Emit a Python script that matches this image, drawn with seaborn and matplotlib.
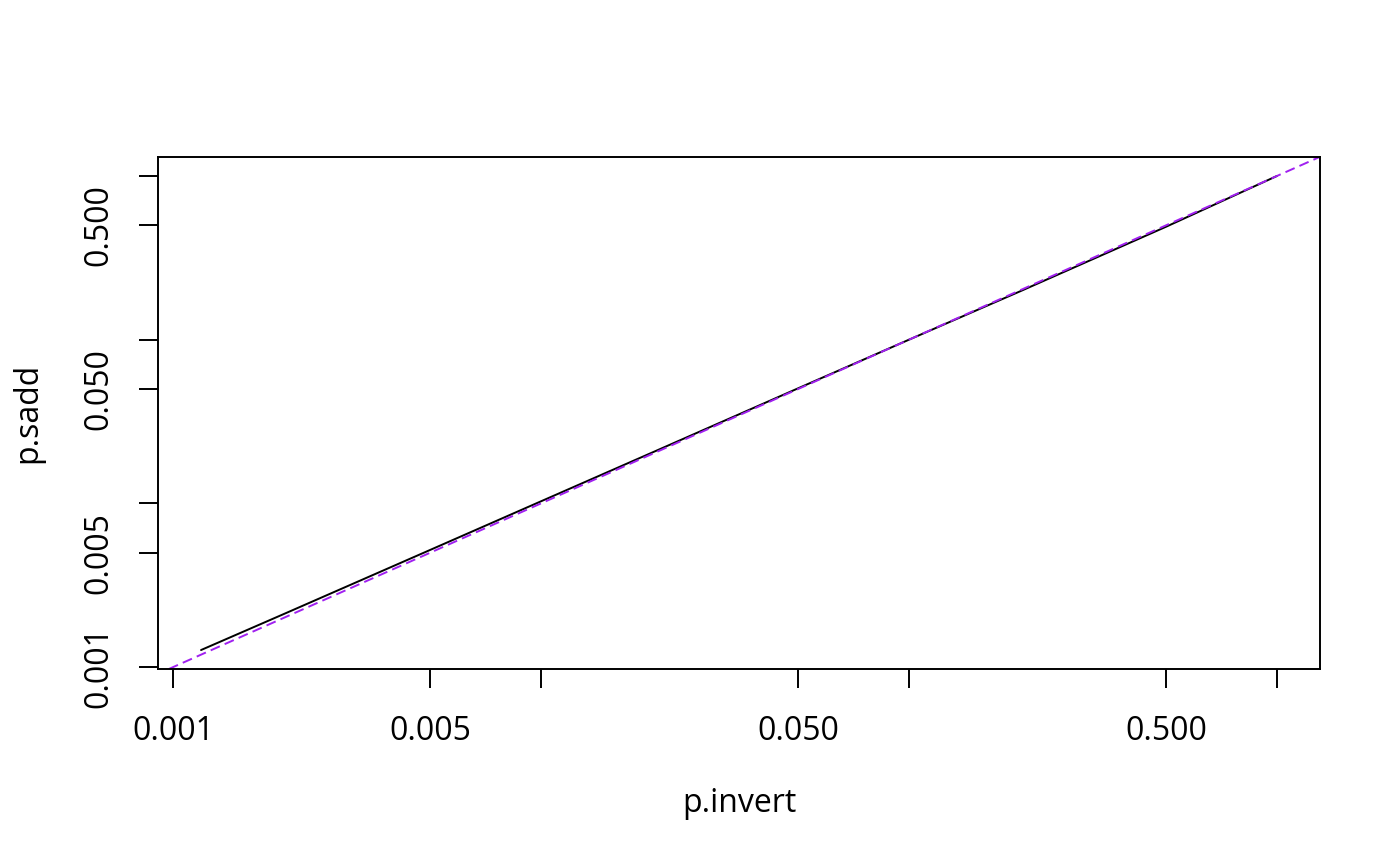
import numpy as np
import pandas as pd
import matplotlib
matplotlib.use("Agg")
import matplotlib.pyplot as plt
import seaborn as sns

# data
p_invert = [0.00119, 0.002, 0.005, 0.01, 0.02, 0.05, 0.1, 0.2, 0.5, 1.0]
p_sadd = [0.00127, 0.00211, 0.0052, 0.0103, 0.0204, 0.0505, 0.1, 0.197, 0.49, 1.0]

x_ticks = [0.001, 0.005, 0.01, 0.05, 0.1, 0.5, 1.0]
x_tick_labels = ["0.001", "0.005", "", "0.050", "", "0.500", ""]
y_ticks = [0.001, 0.005, 0.01, 0.05, 0.1, 0.5, 1.0]
y_tick_labels = ["0.001", "0.005", "", "0.050", "", "0.500", ""]

sns.set_theme(style="white")
plt.rcParams["font.family"] = ["Open Sans", "DejaVu Sans"]
plt.rcParams["lines.scale_dashes"] = False

df = pd.DataFrame({"p.invert": p_invert, "p.sadd": p_sadd})

fig = plt.figure(figsize=(14, 8.66), dpi=100)
W, H = 1400, 866
left, right, top, bottom = 158, 1320, 157, 669
ax = fig.add_axes([left / W, 1 - bottom / H, (right - left) / W, (bottom - top) / H])
ax.set_xscale("log")
ax.set_yscale("log")

sns.lineplot(data=df, x="p.invert", y="p.sadd", ax=ax, color="black",
             linewidth=1.4, estimator=None, sort=False)
ax.axline((1e-3, 1e-3), (1.0, 1.0), color="#A020F0", linewidth=1.4,
          linestyle=(0, (7.2, 3.8)))

def rlim(v):
    lv = np.log10(v)
    lo, hi = lv.min(), lv.max()
    e = 0.04 * (hi - lo)
    return 10 ** (lo - e), 10 ** (hi + e)

ax.set_xlim(*rlim(np.array(p_invert)))
ax.set_ylim(*rlim(np.array(p_sadd)))

ax.set_xticks(x_ticks)
ax.set_xticklabels(x_tick_labels)
ax.set_yticks(y_ticks)
ax.set_yticklabels(y_tick_labels, rotation=90, va="center")
ax.minorticks_off()

fs = 23
ax.tick_params(axis="both", which="major", direction="out", length=13.7,
               width=1.4, color="black", labelsize=fs, labelcolor="black")
ax.tick_params(axis="x", pad=19.5)
ax.tick_params(axis="y", pad=17)
ax.tick_params(bottom=True, left=True)

for s in ax.spines.values():
    s.set_color("black")
    s.set_linewidth(1.4)

ax.set_xlabel("p.invert", fontsize=fs, color="black")
ax.set_ylabel("p.sadd", fontsize=fs, color="black")
ax.xaxis.label.set_va("center")
ax.yaxis.label.set_va("center")
ax.xaxis.set_label_coords(0.5, (bottom - 803) / (bottom - top))
ax.yaxis.set_label_coords((28 - left) / (right - left), 0.5)

ax.grid(False)
fig.savefig("out.png", dpi=100, facecolor="white")
